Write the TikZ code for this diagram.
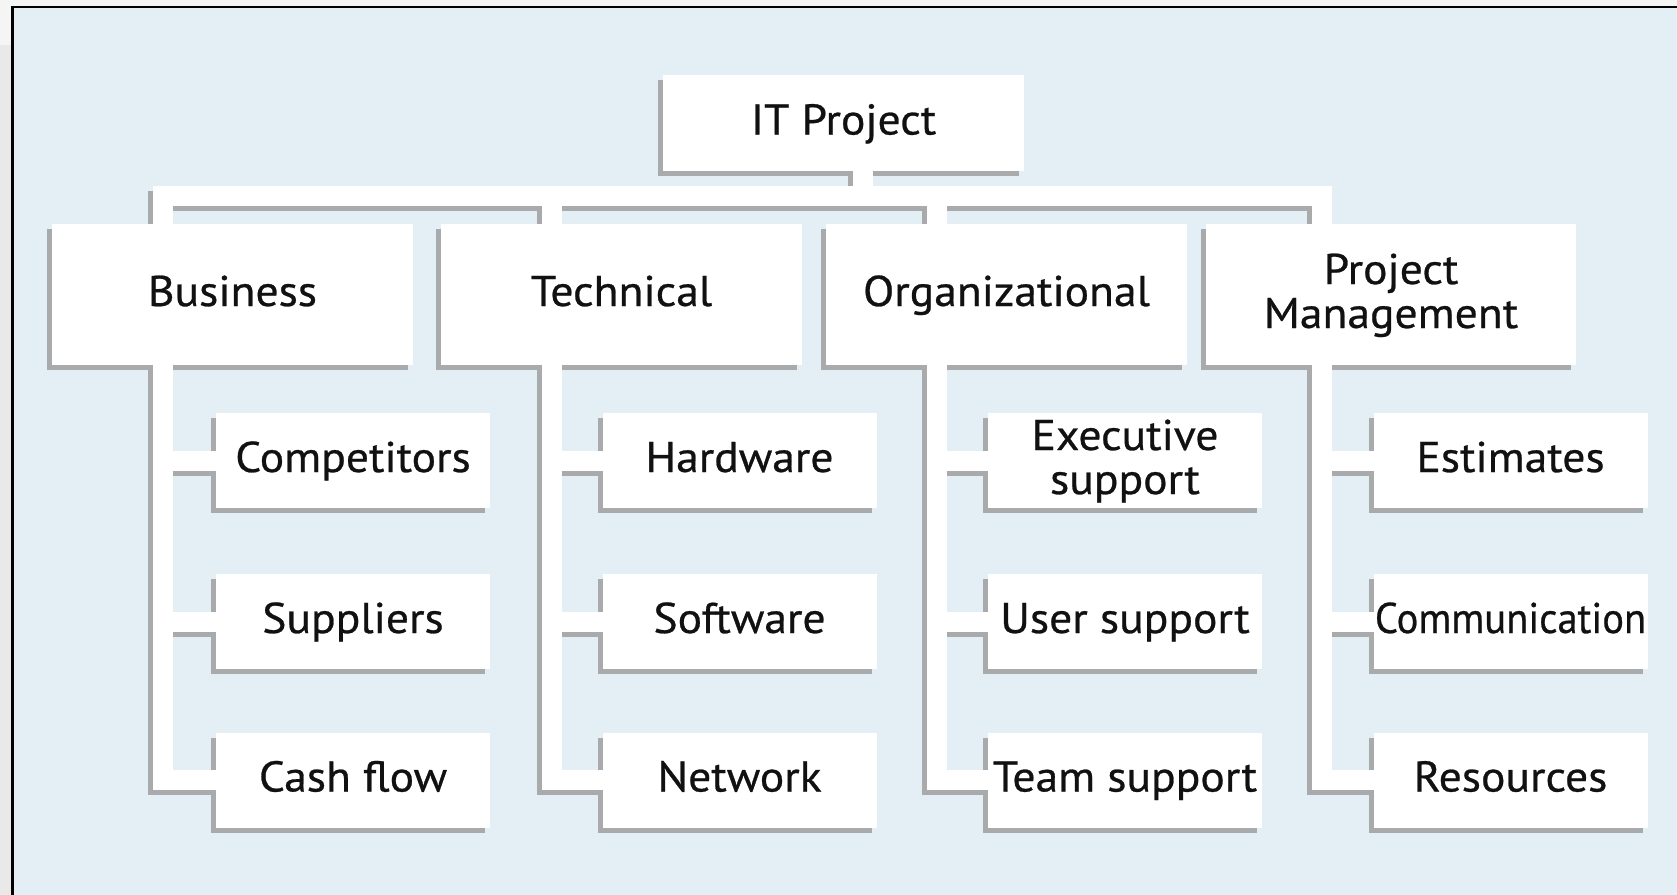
\documentclass[tikz,border=0pt]{standalone}
\usepackage{fontspec}
\setmainfont{PT Sans}[FakeStretch=1.06, FakeBold=0.6]
\usetikzlibrary{calc}
\pgfdeclarelayer{bglayer}
\pgfdeclarelayer{shadowlayer}
\pgfsetlayers{bglayer,shadowlayer,main}
\definecolor{bgblue}{HTML}{E3EFF5}
\definecolor{shadowgrey}{HTML}{A8AAAB}
\definecolor{stripgrey}{HTML}{E9E9E9}
\definecolor{txt}{HTML}{111111}
\tikzset{
  box/.style={fill=white, inner sep=0pt, outer sep=0pt, align=center,
    text=txt, font=\fontsize{43}{44}\selectfont, text height=30pt, text depth=7pt},
  twoline/.style={text height=74pt},
  topbox/.style={box, minimum width=361pt, minimum height=141pt},
  kidbox/.style={box, minimum width=274pt, minimum height=95pt},
  wire/.style={draw=white, line width=20pt, line join=miter, line cap=butt},
  wireshadow/.style={draw=shadowgrey, line width=20pt, line join=miter, line cap=butt},
}
\newcommand\wire[1]{%
  \draw[wire] #1;
  \begin{pgfonlayer}{shadowlayer}
    \draw[wireshadow, transform canvas={shift={(-5pt,-5pt)}}] #1;
  \end{pgfonlayer}}
\newcommand\boxshade[1]{%
  \begin{pgfonlayer}{shadowlayer}
    \fill[shadowgrey, transform canvas={shift={(-5pt,-5pt)}}] (#1.south west) rectangle (#1.north east);
  \end{pgfonlayer}}
\begin{document}
\begin{tikzpicture}[x=1pt,y=-1pt]
\useasboundingbox (0,0) rectangle (1677,894);
\begin{pgfonlayer}{bglayer}
  \fill[white!96!black] (-10,-10) rectangle (1690,910);
  \fill[stripgrey] (-10,45) rectangle (12,910);
  \fill[bgblue] (12,7) rectangle (1690,910);
  \draw[black, line width=2.5pt] (12.5,910) -- (12.5,7) -- (1690,7);
\end{pgfonlayer}

% top level
\node[box, minimum width=361pt, minimum height=96pt] (it) at (843.5,123) {IT Project};
\node[topbox] (biz) at (232.5,294.5) {Business};
\node[topbox] (tech) at (621.5,294.5) {Technical};
\node[topbox] (org) at (1006.5,294.5) {Organizational};
\node[topbox, twoline, minimum width=370pt] (pm) at (1391,294.5) {Project\\Management};

% children
\node[kidbox] (comp) at (353,460.5) {Competitors};
\node[kidbox] (supp) at (353,621.5) {Suppliers};
\node[kidbox] (cash) at (353,780) {Cash flow};
\node[kidbox] (hw) at (739.5,460.5) {Hardware};
\node[kidbox] (sw) at (739.5,621.5) {Software};
\node[kidbox] (net) at (739.5,780) {Network};
\node[kidbox, twoline] (exec) at (1125,460.5) {Executive\\support};
\node[kidbox] (user) at (1125,621.5) {User support};
\node[kidbox] (team) at (1125,780) {Team support};
\node[kidbox] (est) at (1510.5,460.5) {Estimates};
\node[kidbox] (comm) at (1510.5,621.5) {\scalebox{0.89}[1]{Communication}};
\node[kidbox] (res) at (1510.5,780) {Resources};

\foreach \n in {it,biz,tech,org,pm,comp,supp,cash,hw,sw,net,exec,user,team,est,comm,res}{\boxshade{\n}}

% bus
\coordinate (busB) at (163,196);
\coordinate (busT) at (552,196);
\coordinate (busO) at (936.5,196);
\coordinate (busP) at (1322,196);
\coordinate (stem) at (863,196);

\wire{(it.south -| stem) -- (stem)}
\wire{(biz.north -| busB) -- (busB) -- (busP) -- (pm.north -| busP)}
\wire{(busT) -- (tech.north -| busT)}
\wire{(busO) -- (org.north -| busO)}

% branches
\wire{(biz.south -| busB) -- (cash.west -| busB) -- (cash.west)}
\wire{(comp.west -| busB) -- (comp.west)}
\wire{(supp.west -| busB) -- (supp.west)}

\wire{(tech.south -| busT) -- (net.west -| busT) -- (net.west)}
\wire{(hw.west -| busT) -- (hw.west)}
\wire{(sw.west -| busT) -- (sw.west)}

\wire{(org.south -| busO) -- (team.west -| busO) -- (team.west)}
\wire{(exec.west -| busO) -- (exec.west)}
\wire{(user.west -| busO) -- (user.west)}

\wire{(pm.south -| busP) -- (res.west -| busP) -- (res.west)}
\wire{(est.west -| busP) -- (est.west)}
\wire{(comm.west -| busP) -- (comm.west)}
\end{tikzpicture}
\end{document}
